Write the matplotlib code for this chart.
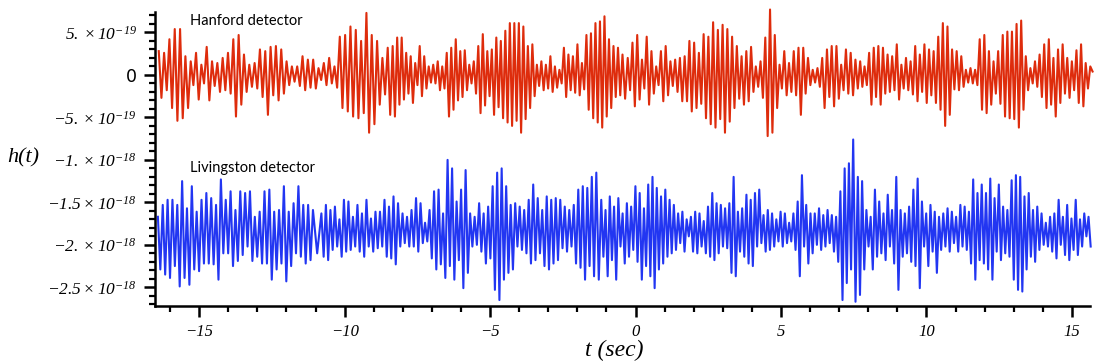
import numpy as np
import matplotlib
matplotlib.use('Agg')
import matplotlib.pyplot as plt
from matplotlib.ticker import MultipleLocator

plt.rcParams['mathtext.fontset'] = 'custom'
plt.rcParams['mathtext.rm'] = 'Liberation Serif:italic'
plt.rcParams['mathtext.it'] = 'Liberation Serif:italic'

# strain, in units of 1e-19: successive peaks and the trough after each,
# grouped in four stretches of the time axis (start / end time of the peaks in each stretch)
hanford_seg_start = [-16.39, -8.35, -0.27, 7.87]
hanford_seg_end = [-8.52, -0.45, 7.72, 15.63]
hanford_max = [
    [2.8, 2.6, 4.2, 5.4, 5.4, 2.2, 1.6, 2.6, 1.2, 3.3, 1.6, 1.4, 2.0, 2.6, 4.2, 4.7, 2.4, 1.2, 1.4, 3.0,
     2.8, 3.3, 3.4, 3.0, 1.6, 1.0, 1.0, 2.2, 1.8, 1.8, 0.8, 1.4, 2.0, 1.0, 4.5, 4.7, 5.7, 5.3, 4.0, 7.3,
     4.7, 4.0, 2.0, 3.2],
    [3.4, 4.4, 4.4, 2.6, 2.2, 1.4, 3.4, 2.2, 1.0, 1.2, 1.6, 1.0, 2.6, 3.2, 4.2, 2.8, 2.9, 1.2, 1.6,
     3.4, 4.8, 2.8, 3.0, 4.4, 4.0, 5.2, 6.1, 6.1, 6.1, 5.7, 3.4, 3.6, 1.2, 1.6, 1.2, 2.2, 1.0, 0.6, 3.2,
     2.4, 2.2, 3.6, 1.4, 4.7, 4.9, 6.1, 6.3, 6.9, 4.2, 3.4, 3.2, 2.4],
    [2.0, 3.8, 4.7, 1.8, 4.5, 2.8, 1.0, 2.8, 3.4, 1.6, 1.8, 2.0, 2.2, 4.0, 3.8, 2.6, 4.8, 4.5, 6.2,
     5.3, 5.9, 5.4, 4.5, 3.4, 2.2, 2.8, 3.3, 1.0, 1.6, 4.4, 7.7, 4.7, 1.2, 2.8, 1.4, 2.8, 3.2, 3.2, 2.0,
     0.6, 0.8, 2.0, 3.0, 3.4, 3.4, 1.2, 3.0, 2.6, 1.8, 1.6],
    [1.0, 2.6, 3.2, 3.4, 3.2, 2.4, 2.2, 3.6, 1.2, 2.0, 1.6, 3.4, 2.4, 3.6, 3.0, 2.8, 4.5, 6.1, 5.7,
     3.0, 2.8, 2.2, 0.6, 0.8, 0.6, 4.2, 4.7, 2.8, 1.6, 2.8, 4.7, 5.1, 5.1, 6.0, 6.4, 2.2, 0.8, 1.6, 2.4,
     3.6, 4.2, 2.0, 3.0, 3.6, 2.0, 1.6, 2.9, 3.6, 1.4, 1.0],
]
hanford_min = [
    [-2.7, -1.8, -3.9, -5.4, -5.1, -3.9, -1.2, -2.9, -1.0, -3.0, -1.3, -2.0, -1.8, -2.2, -4.9, -3.5, -2.0, -1.4, -1.6, -2.6,
     -4.7, -2.4, -3.0, -2.2, -1.2, -0.8, -1.3, -1.8, -1.5, -1.6, -0.6, -1.2, -1.0, -1.5, -3.9, -4.3, -4.9, -5.1, -4.5, -6.8,
     -5.8, -3.5, -2.3, -4.7],
    [-4.9, -3.5, -2.9, -2.2, -3.3, -1.2, -2.5, -1.6, -0.9, -1.0, -1.8, -1.6, -4.9, -4.1, -3.0, -2.6, -1.8, -1.0, -2.2,
     -4.5, -3.6, -2.5, -4.7, -3.8, -5.1, -5.6, -6.0, -5.4, -6.8, -5.2, -3.9, -2.5, -1.3, -1.8, -1.6, -2.0, -1.5, -1.0, -2.6,
     -1.8, -2.1, -2.4, -1.7, -4.1, -5.1, -5.6, -6.2, -4.9, -3.9, -2.6, -2.4, -2.8],
    [-1.8, -3.7, -2.9, -1.6, -3.5, -2.2, -1.2, -3.1, -2.4, -1.3, -2.0, -3.1, -3.1, -4.3, -3.9, -3.4, -5.1, -5.8, -6.2,
     -5.2, -6.8, -5.5, -3.9, -2.8, -3.5, -3.1, -2.0, -1.4, -2.7, -7.2, -6.8, -3.9, -1.6, -2.4, -2.0, -2.4, -4.7, -2.2, -1.2,
     -0.9, -1.4, -3.9, -2.6, -3.7, -2.8, -1.8, -2.2, -2.4, -1.6, -1.4],
    [-1.2, -3.5, -2.6, -3.5, -2.2, -2.0, -1.8, -2.9, -1.6, -1.8, -2.3, -3.1, -2.0, -3.3, -2.4, -3.3, -4.1, -6.0, -4.7,
     -1.7, -1.8, -1.4, -0.9, -1.0, -1.2, -4.1, -4.5, -3.5, -2.2, -3.4, -4.9, -5.1, -5.2, -6.2, -4.1, -1.8, -1.0, -1.4, -2.6,
     -3.9, -3.5, -4.9, -3.3, -2.2, -2.7, -1.8, -3.3, -3.7, -1.6, 0.4],
]

livingston_seg_start = [-16.42, -10.80, -1.18, 7.64]
livingston_seg_end = [-11.09, -1.35, 7.48, 15.57]
livingston_max = [
    [-16.7, -15.3, -14.7, -14.7, -15.3, -12.5, -15.7, -13.1, -16.1, -14.7, -13.9, -14.5, -15.3, -12.3, -14.7, -13.7, -15.9,
     -13.7, -13.9, -13.7, -16.7, -16.1, -13.7, -13.5, -16.1, -15.9, -13.1, -16.1, -15.1, -13.1, -15.3, -15.3, -15.9],
    [-16.3, -15.3, -15.9, -15.5, -17.0, -14.7, -14.9, -16.7, -15.3, -16.3, -14.7, -16.9, -16.1, -16.1, -14.7, -15.5, -14.3,
     -15.1, -16.3, -16.7, -15.9, -14.5, -15.1, -17.4, -15.9, -13.7, -13.5, -16.3, -10.0, -11.0, -14.9, -13.5, -11.2, -16.3,
     -16.7, -15.1, -16.3, -15.5, -13.1, -11.5, -11.0, -13.1, -15.3, -15.1, -15.5, -15.9, -14.7, -12.9, -14.5, -15.9, -14.3,
     -14.7, -14.5, -14.7, -15.5, -15.9, -15.3, -13.5, -13.1, -13.3, -12.0, -11.5],
    [-14.7, -15.9, -14.3, -15.5, -14.5, -16.3, -15.1, -15.5, -13.1, -13.9, -15.7, -12.9, -12.0, -13.3, -14.3, -13.5, -14.7,
     -15.3, -16.3, -16.1, -17.0, -16.7, -16.1, -16.3, -17.2, -15.5, -13.9, -15.1, -15.3, -15.7, -15.1, -12.0, -16.1, -15.7,
     -14.1, -14.7, -13.9, -13.5, -16.5, -15.9, -16.3, -17.0, -16.1, -16.3, -17.4, -16.3, -14.9, -11.8, -15.3, -16.3, -16.3,
     -15.7, -16.5, -15.9, -16.5, -16.7, -13.7, -11.0, -10.4, -7.6],
    [-12.0, -12.5, -15.9, -16.7, -13.5, -14.9, -16.3, -14.1, -15.9, -12.0, -15.9, -16.3, -15.5, -13.5, -12.2, -14.9, -16.3,
     -15.3, -16.1, -16.7, -16.3, -15.7, -16.1, -16.7, -15.3, -15.5, -16.1, -12.3, -13.9, -12.9, -13.9, -12.2, -14.5, -12.9,
     -15.5, -15.9, -12.4, -11.8, -12.0, -14.3, -13.9, -15.9, -15.5, -16.3, -17.4, -16.7, -16.3, -14.7, -16.7, -15.3, -16.9,
     -14.7, -17.0, -16.3, -16.7],
]
livingston_min = [
    [-22.9, -23.5, -23.9, -22.5, -24.9, -23.9, -24.7, -22.9, -23.1, -22.2, -22.2, -22.3, -24.1, -21.0, -21.0, -22.5, -21.9,
     -21.2, -20.2, -21.9, -21.4, -22.2, -22.2, -24.1, -22.9, -22.2, -24.3, -22.5, -21.0, -21.4, -22.2, -21.8, -21.0],
    [-21.4, -21.8, -20.6, -20.2, -21.4, -20.8, -20.6, -20.2, -20.8, -21.4, -20.2, -20.8, -20.4, -20.2, -21.4, -21.6, -22.3,
     -20.2, -19.8, -20.2, -20.2, -20.8, -19.8, -19.6, -21.6, -22.9, -22.3, -23.9, -22.5, -24.1, -21.8, -25.1, -23.3, -20.2,
     -20.0, -20.8, -22.2, -21.6, -25.3, -26.5, -24.1, -23.3, -22.9, -20.2, -20.6, -21.0, -22.2, -21.8, -21.0, -22.5, -22.9,
     -22.2, -21.8, -20.4, -20.8, -20.2, -22.2, -22.7, -24.1, -22.5, -23.7, -24.1],
    [-21.4, -23.7, -21.8, -24.1, -20.2, -22.2, -21.4, -20.6, -22.0, -24.1, -22.5, -23.7, -25.1, -22.9, -22.2, -21.4, -21.0,
     -20.6, -19.8, -20.8, -19.0, -20.8, -21.0, -20.2, -21.0, -21.4, -21.8, -21.0, -20.2, -20.4, -23.3, -23.7, -20.8, -21.4,
     -22.2, -22.5, -20.2, -19.8, -20.8, -20.6, -20.2, -19.6, -20.2, -19.8, -19.6, -20.6, -23.7, -20.2, -22.2, -21.0, -20.0,
     -20.6, -20.2, -19.8, -20.8, -22.0, -26.5, -24.5, -22.9, -26.7],
    [-25.9, -22.9, -20.2, -22.9, -21.4, -21.0, -21.8, -20.2, -22.2, -25.3, -21.4, -21.0, -22.0, -22.5, -25.1, -20.2, -22.5,
     -20.8, -23.3, -20.6, -20.2, -20.8, -19.8, -20.8, -20.2, -20.6, -22.2, -24.1, -21.8, -22.2, -22.9, -24.1, -20.8, -21.8,
     -21.0, -21.4, -24.1, -25.3, -25.5, -22.9, -21.4, -22.0, -20.6, -20.0, -20.2, -20.8, -21.6, -20.0, -21.2, -21.8, -20.6,
     -21.2, -20.2, -19.0, -20.2],
]

x_ticks = [-15, -10, -5, 0, 5, 10, 15]
x_labels = ['\u221215', '\u221210', '\u22125', '0', '5', '10', '15']
y_ticks = [5e-19, 0, -5e-19, -1e-18, -1.5e-18, -2e-18, -2.5e-18]
y_labels = [r'$5.\times10^{-19}$', '0', r'$-5.\times10^{-19}$', r'$-1.\times10^{-18}$',
            r'$-1.5\times10^{-18}$', r'$-2.\times10^{-18}$', r'$-2.5\times10^{-18}$']


def trace(seg_start, seg_end, maxima, minima):
    # peaks spread evenly over each stretch, each trough halfway to the next peak
    t_max = np.concatenate([np.linspace(a, b, len(m)) for a, b, m in zip(seg_start, seg_end, maxima)])
    t_min = np.append((t_max[:-1] + t_max[1:]) / 2, t_max[-1] + (t_max[-1] - t_max[-2]) / 2)
    t = np.column_stack([t_max, t_min]).ravel()
    v = np.column_stack([np.concatenate(maxima), np.concatenate(minima)]).ravel() * 1e-19
    return t, v


t_h, h = trace(hanford_seg_start, hanford_seg_end, hanford_max, hanford_min)
t_l, l = trace(livingston_seg_start, livingston_seg_end, livingston_max, livingston_min)

fig = plt.figure(figsize=(11, 3.62), dpi=100)
ax = fig.add_axes([0.1409, 0.1547, 0.85, 0.812])

ax.plot(t_h, h, color='#DE2C0C', lw=1.5, clip_on=False, solid_joinstyle='round')
ax.plot(t_l, l, color='#2236F2', lw=1.5, clip_on=False, solid_joinstyle='round')

ax.set_xlim(-16.52, 15.62)
ax.set_ylim(-2.72e-18, 7.4e-19)

for s in ['top', 'right']:
    ax.spines[s].set_visible(False)
for s in ['left', 'bottom']:
    ax.spines[s].set_linewidth(1.8)

ax.set_xticks(x_ticks)
ax.set_xticklabels(x_labels, fontfamily='Liberation Serif', fontstyle='italic', fontsize=12)
ax.xaxis.set_minor_locator(MultipleLocator(1))
ax.set_yticks(y_ticks)
ax.set_yticklabels(y_labels, fontsize=12.5)
ax.yaxis.set_minor_locator(MultipleLocator(1e-19))
ax.tick_params(which='major', length=8, width=1.8, direction='out', pad=5)
ax.tick_params(which='minor', length=4, width=1.6, direction='out')

ax.text(-15.33, 6.3e-19, 'Hanford detector', fontfamily='Lato', fontsize=10.5, va='center')
ax.text(-15.33, -10.9e-19, 'Livingston detector', fontfamily='Lato', fontsize=10.5, va='center')

fig.text(23 / 1100, 1 - 158 / 362, 'h(t)', fontfamily='Liberation Serif', fontstyle='italic',
         fontsize=16, ha='center', va='center')
fig.text(614 / 1100, 1 - 350 / 362, 't (sec)', fontfamily='Liberation Serif', fontstyle='italic',
         fontsize=17, ha='center', va='center')

fig.savefig('out.png', dpi=100)
